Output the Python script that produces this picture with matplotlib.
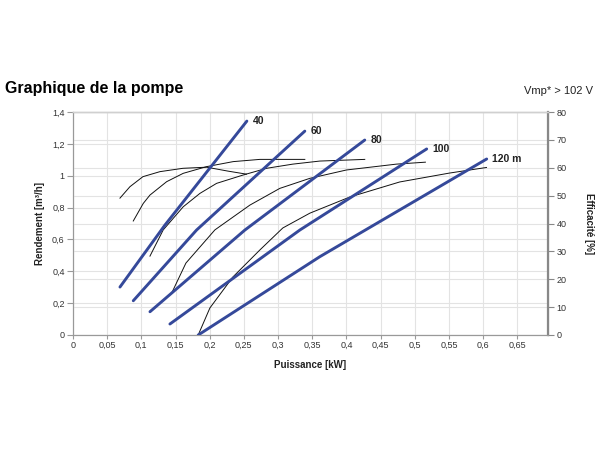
import matplotlib
matplotlib.use("Agg")
import matplotlib.pyplot as plt
from matplotlib.ticker import FuncFormatter

plt.rcParams['font.family'] = ['Liberation Sans', 'DejaVu Sans']

# ---- data ----
head_labels = ["40", "60", "80", "100", "120 m"]

q40_x = [0.0687, 0.1345, 0.2544]
q40_y = [0.301, 0.690, 1.343]
q60_x = [0.0882, 0.1808, 0.3392]
q60_y = [0.215, 0.659, 1.280]
q80_x = [0.1126, 0.2515, 0.4269]
q80_y = [0.146, 0.659, 1.224]
q100_x = [0.1418, 0.3319, 0.5175]
q100_y = [0.069, 0.659, 1.168]
q120_x = [0.1832, 0.3611, 0.6053]
q120_y = [0.0, 0.4915, 1.105]

e40_x = [0.0687, 0.0833, 0.1023, 0.1272, 0.1608, 0.1955, 0.2266, 0.2539]
e40_y = [49.1, 53.2, 56.8, 58.6, 59.8, 60.2, 58.8, 57.7]
e60_x = [0.0882, 0.1028, 0.1126, 0.137, 0.1613, 0.1955, 0.2344, 0.2734, 0.3392]
e60_y = [40.9, 47.2, 50.2, 55.0, 58.0, 60.4, 62.2, 63.0, 63.0]
e80_x = [0.1126, 0.132, 0.1613, 0.1857, 0.2101, 0.249, 0.2832, 0.3216, 0.3611, 0.4269]
e80_y = [28.3, 37.7, 46.0, 50.8, 54.4, 57.4, 59.8, 61.3, 62.4, 63.0]
e100_x = [0.1443, 0.1652, 0.2076, 0.2588, 0.3026, 0.3465, 0.4001, 0.4732, 0.5156]
e100_y = [15.0, 25.8, 37.7, 46.6, 52.6, 56.2, 59.2, 61.3, 62.0]
e120_x = [0.1832, 0.2003, 0.2339, 0.2734, 0.307, 0.3465, 0.405, 0.478, 0.551, 0.605]
e120_y = [0.0, 9.7, 20.8, 30.5, 38.4, 43.7, 49.5, 54.9, 58.1, 60.1]

x_ticks = [0, 0.05, 0.1, 0.15, 0.2, 0.25, 0.3, 0.35, 0.4, 0.45, 0.5, 0.55, 0.6, 0.65]
y_ticks = [0, 0.2, 0.4, 0.6, 0.8, 1.0, 1.2, 1.4]
y2_ticks = [0, 10, 20, 30, 40, 50, 60, 70, 80]

heads = [(q40_x, q40_y), (q60_x, q60_y), (q80_x, q80_y), (q100_x, q100_y), (q120_x, q120_y)]
effs = [(e40_x, e40_y), (e60_x, e60_y), (e80_x, e80_y), (e100_x, e100_y), (e120_x, e120_y)]

BLUE = '#35499a'
GRID = '#e3e3e3'
TXT = '#333333'

fig = plt.figure(figsize=(6, 4.5), dpi=100)
ax = fig.add_axes([73/600, 1-335/450, (548-73)/600, (335-112)/450])
ax2 = ax.twinx()
ax.set_autoscale_on(False)
ax2.set_autoscale_on(False)

def fmt(v, pos):
    s = ('%g' % v)
    return s.replace('.', ',')

ax.set_xlim(0, 0.695)
ax.set_ylim(0, 1.4)
ax2.set_ylim(0, 80)
ax.set_xticks(x_ticks)
ax.set_yticks(y_ticks)
ax2.set_yticks(y2_ticks)
ax.xaxis.set_major_formatter(FuncFormatter(fmt))
ax.yaxis.set_major_formatter(FuncFormatter(fmt))
ax2.yaxis.set_major_formatter(FuncFormatter(fmt))

ax.grid(True, color=GRID, linewidth=0.8)
ax2.grid(True, axis='y', color=GRID, linewidth=0.8)
ax.set_axisbelow(True)
ax2.set_axisbelow(True)

for x, y in effs:
    ax2.plot(x, y, color='#111111', linewidth=0.7, zorder=3)

for (x, y), lab in zip(heads, head_labels):
    ax2.plot(x, y, color=BLUE, linewidth=2.1, solid_capstyle='round',
             transform=ax.transData, zorder=4)
    ax2.annotate(lab, (x[-1], y[-1]), xycoords=ax.transData, xytext=(4, 0),
                 textcoords='offset points', fontsize=7.5, fontweight='bold',
                 color='#222222', va='center', ha='left', annotation_clip=False)

ax.set_xlim(0, 0.695)
ax.set_ylim(0, 1.4)
ax2.set_ylim(0, 80)

for a in (ax, ax2):
    a.spines['top'].set_color('#d0d0d0')
    a.spines['top'].set_linewidth(1.0)
    a.spines['left'].set_color('#999999')
    a.spines['bottom'].set_color('#999999')
    a.spines['right'].set_color('#888888')
ax2.spines['right'].set_linewidth(1.6)

ax.tick_params(axis='both', labelsize=6.5, labelcolor=TXT, length=4, width=0.8, pad=2, color='#999999')
ax.tick_params(axis='x', pad=1.5, length=3)
ax2.tick_params(axis='y', labelsize=6.5, labelcolor=TXT, length=4, width=0.8, pad=2, color='#888888')

ax.set_xlabel('Puissance [kW]', fontsize=7, fontweight='bold', color='#222222', labelpad=7)
ax.set_ylabel('Rendement [m³/h]', fontsize=7, fontweight='bold', color='#222222', labelpad=5)
ax2.set_ylabel('Efficacité [%]', fontsize=7, fontweight='bold', color='#222222', rotation=270, labelpad=20)

fig.text(5/600, 1-88/450, 'Graphique de la pompe', fontsize=11.5, fontweight='bold', color='black',
         ha='left', va='center')
fig.text(593/600, 1-91/450, 'Vmp* > 102 V', fontsize=8, color='#222222', ha='right', va='center')

fig.savefig('out.png', dpi=100)
